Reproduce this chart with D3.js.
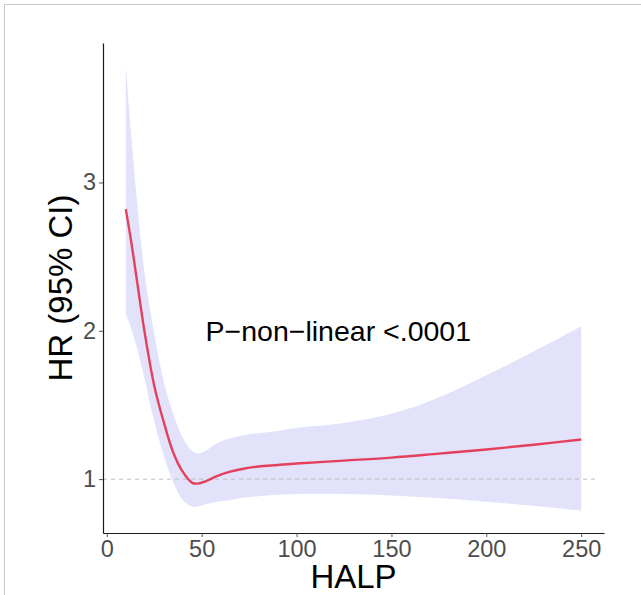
<!DOCTYPE html>
<html>
<head>
<meta charset="utf-8">
<script src="https://cdn.jsdelivr.net/npm/d3@7"></script>
<style>
  body { margin: 0; background: #fff; }
  svg { display: block; font-family: "Liberation Sans", Arial, sans-serif; }
</style>
</head>
<body>
<svg width="641" height="595"></svg>
<script>
const halp  = [10, 13, 16, 20, 25, 30, 35, 40, 45, 48, 52, 58, 65, 72, 80, 90, 100, 125, 150, 175, 200, 225, 250]
const hr    = [2.82, 2.59, 2.33, 1.985, 1.63, 1.385, 1.18, 1.05, 0.975, 0.97, 0.985, 1.02, 1.05, 1.07, 1.085, 1.095, 1.105, 1.125, 1.145, 1.172, 1.20, 1.232, 1.267]
const lower = [2.115, 2.01, 1.88, 1.67, 1.39, 1.16, 0.98, 0.86, 0.815, 0.815, 0.83, 0.847, 0.86, 0.875, 0.885, 0.895, 0.90, 0.90, 0.89, 0.872, 0.848, 0.82, 0.787]
const upper = [3.79, 3.30, 2.86, 2.38, 1.98, 1.66, 1.44, 1.28, 1.19, 1.173, 1.19, 1.24, 1.275, 1.296, 1.31, 1.325, 1.345, 1.378, 1.44, 1.55, 1.70, 1.86, 2.03]
const xTicks = [0, 50, 100, 150, 200, 250]
const yTicks = [1, 2, 3]
const annotation = {x: 122, y: 2, label: 'P\u2212non\u2212linear <.0001'}

const svg = d3.select('svg')
const panel = {left: 103, right: 604, top: 43, bottom: 533}

// ggplot style 5% expansion
function expand(lo, hi) { const p = (hi - lo) * 0.05; return [lo - p, hi + p] }

const rows = halp.map((h, i) => ({x: h, hr: hr[i], lo: lower[i], hi: upper[i]}))

const x = d3.scaleLinear()
  .domain(expand(d3.min(halp), d3.max(halp)))
  .range([panel.left, panel.right])
const y = d3.scaleLinear()
  .domain(expand(d3.min(lower), d3.max(upper)))
  .range([panel.bottom, panel.top])

// frame lines of the figure (top and left only)
svg.append('path')
  .attr('d', 'M4.5,595 V4.5 H641')
  .attr('fill', 'none')
  .attr('stroke', '#c8c8c8')
  .attr('stroke-width', 1)

// confidence band
svg.append('path')
  .datum(rows)
  .attr('fill', '#e2e2fb')
  .attr('d', d3.area()
        .x(d => x(d.x))
        .y0(d => y(d.lo))
        .y1(d => y(d.hi))
        .curve(d3.curveCatmullRom))

// reference line at HR = 1
svg.append('line')
  .attr('x1', panel.left).attr('x2', panel.right - 6)
  .attr('y1', y(1)).attr('y2', y(1))
  .attr('stroke', '#bdbdbd')
  .attr('stroke-width', 1)
  .attr('stroke-dasharray', '4,4')

// hazard ratio curve
svg.append('path')
  .datum(rows)
  .attr('fill', 'none')
  .attr('stroke', '#e4405c')
  .attr('stroke-width', 2.4)
  .attr('d', d3.line()
        .x(d => x(d.x))
        .y(d => y(d.hr))
        .curve(d3.curveCatmullRom))

// axes
const xAxis = svg.append('g')
  .attr('transform', `translate(0,${panel.bottom})`)
  .call(d3.axisBottom(x).tickValues(xTicks).tickFormat(d3.format('d')).tickSize(4).tickPadding(3).tickSizeOuter(0))
const yAxis = svg.append('g')
  .attr('transform', `translate(${panel.left},0)`)
  .call(d3.axisLeft(y).tickValues(yTicks).tickFormat(d3.format('d')).tickSize(4).tickPadding(3).tickSizeOuter(0))

;[xAxis, yAxis].forEach(g => {
  g.select('.domain').attr('stroke', '#1a1a1a').attr('stroke-width', 1.2)
  g.selectAll('.tick line').attr('stroke', '#555')
  g.selectAll('.tick text')
    .attr('fill', '#4d4d4d')
    .style('font-size', '23.5px')
    .style('font-family', '"Liberation Sans", Arial, sans-serif')
})

// axis titles
svg.append('text')
  .attr('x', (panel.left + panel.right) / 2)
  .attr('y', 588)
  .attr('text-anchor', 'middle')
  .style('font-size', '33px')
  .text('HALP')
svg.append('text')
  .attr('transform', `translate(72,${(panel.top + panel.bottom) / 2}) rotate(-90)`)
  .attr('text-anchor', 'middle')
  .style('font-size', '33px')
  .text('HR (95% CI)')

// p value annotation
svg.append('text')
  .attr('x', x(annotation.x))
  .attr('y', y(annotation.y))
  .attr('text-anchor', 'middle')
  .attr('dominant-baseline', 'central')
  .style('font-size', '28.5px')
  .text(annotation.label)
</script>
</body>
</html>
